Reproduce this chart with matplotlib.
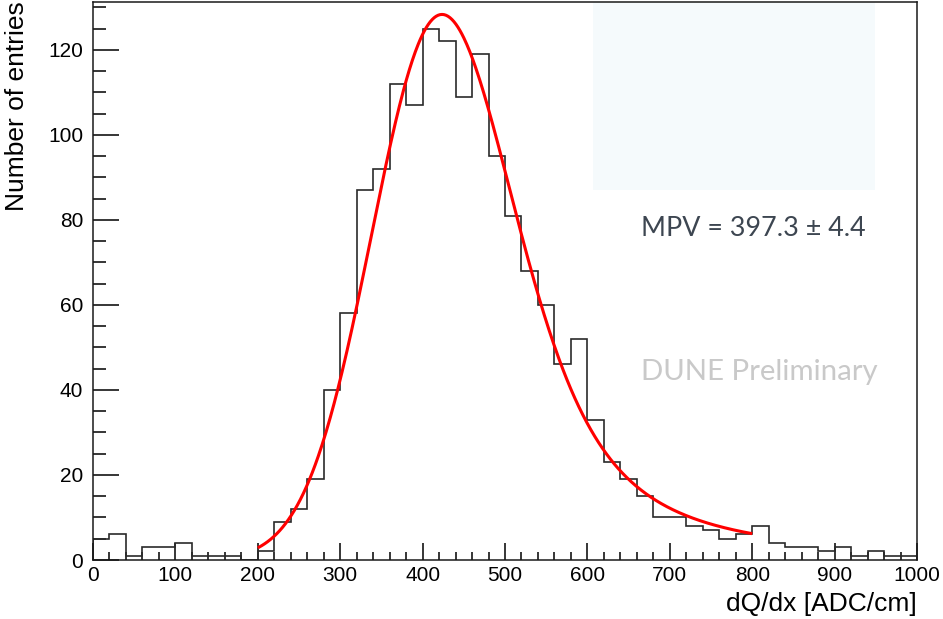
import numpy as np
import matplotlib
matplotlib.use("Agg")
import matplotlib.pyplot as plt
from matplotlib.ticker import MultipleLocator
from matplotlib.patches import Rectangle

# ---------------- data ----------------
bin_width = 20
x_min, x_max = 0, 1000
counts = [5, 6, 1, 3, 3, 4, 1, 1, 1, 0,
          2, 9, 12, 19, 40, 58, 87, 92, 112, 107,
          125, 122, 109, 119, 95, 81, 68, 60, 46, 52,
          33, 23, 19, 15, 10, 10, 8, 7, 5, 6,
          8, 4, 3, 3, 2, 3, 1, 2, 1, 1]

# Landau (x) Gaussian fit parameters
fit_range = (200, 800)
fit_width = 22.0      # Landau width
fit_mpv = 397.3       # Landau MPV
fit_area = 32970.0    # normalisation
fit_sigma = 72.0      # Gaussian sigma
mpv_err = 4.4

x_label = "dQ/dx [ADC/cm]"
y_label = "Number of entries"
mpv_text = "MPV = %.1f \u00b1 %.1f" % (fit_mpv, mpv_err)
watermark = "DUNE Preliminary"

# ---------------- Landau-Gauss function ----------------
lam_grid = np.arange(-4.0, 80.0, 0.02)

def landau_std(lam):
    out = np.zeros_like(lam)
    y = np.linspace(0, 80, 16001)
    dy = y[1] - y[0]
    for i in range(0, lam.size, 200):
        l = lam[i:i + 200][:, None]
        c = np.clip(np.exp(-1 - l), 1e-3, 60)
        s = c + 1j * y[None, :]
        f = np.exp(s * np.log(s) + l * s)
        out[i:i + 200] = np.trapezoid(f.real, dx=dy, axis=1) / np.pi
    return out

phi_grid = landau_std(lam_grid)
X = np.arange(-600, 2000, 1.0)

def langaus(xe, w, mpv, area, s):
    mpc = mpv + 0.22278298 * w
    L = np.interp((X - mpc) / w, lam_grid, phi_grid, left=0, right=0) / w
    k = np.arange(-np.ceil(5 * s), np.ceil(5 * s) + 1, 1.0)
    g = np.exp(-0.5 * (k / s) ** 2) / (np.sqrt(2 * np.pi) * s)
    conv = np.convolve(L, g, mode="same")
    return area * np.interp(xe, X, conv)

# ---------------- figure ----------------
W, H = 943, 619
fig = plt.figure(figsize=(W / 100, H / 100), dpi=100)
fig.patch.set_facecolor("white")
L0, R0, T0, B0 = 93, 917, 2, 560
ax = fig.add_axes([L0 / W, 1 - B0 / H, (R0 - L0) / W, (B0 - T0) / H])

edges = np.arange(x_min, x_max + bin_width, bin_width)
ax.stairs(counts, edges, color="#2a2a2a", lw=1.2, zorder=3)

xc = np.linspace(fit_range[0], fit_range[1], 500)
ax.plot(xc, langaus(xc, fit_width, fit_mpv, fit_area, fit_sigma),
        color="#ff0000", lw=2.2, zorder=4, solid_capstyle="butt")

ax.set_xlim(x_min, x_max)
ax.set_ylim(0, 1.05 * max(counts))

# light box (stats area)
ax.add_patch(Rectangle(((593 - L0) / (R0 - L0), (B0 - 190) / (B0 - T0)),
                       (875 - 593) / (R0 - L0), (190 - T0) / (B0 - T0),
                       transform=ax.transAxes, facecolor="#f5fafc",
                       edgecolor="none", zorder=0.5))

tick_font = "Liberation Sans"
ax.xaxis.set_major_locator(MultipleLocator(100))
ax.xaxis.set_minor_locator(MultipleLocator(20))
ax.yaxis.set_major_locator(MultipleLocator(20))
ax.yaxis.set_minor_locator(MultipleLocator(5))
ax.tick_params(axis="x", which="major", direction="in", length=12, width=1.1,
               pad=4, labelsize=15, top=False)
ax.tick_params(axis="x", which="minor", direction="in", length=6, width=1.1, top=False)
ax.tick_params(axis="y", which="major", direction="in", length=18.5, width=1.1,
               pad=7, labelsize=15, right=False)
ax.tick_params(axis="y", which="minor", direction="in", length=9.4, width=1.1, right=False)
for lab in ax.get_xticklabels() + ax.get_yticklabels():
    lab.set_fontfamily(tick_font)
for sp in ax.spines.values():
    sp.set_linewidth(1.1)
    sp.set_color("#1a1a1a")
    sp.set_zorder(5)

fig.text(17 / W, 1 - 1 / H, y_label, rotation=90, ha="center", va="top",
         fontsize=19, family=tick_font)
fig.text(R0 / W, 1 - 604 / H, x_label, ha="right", va="center",
         fontsize=19, family=tick_font)

fig.text(641 / W, 1 - 228 / H, mpv_text, ha="left", va="center",
         fontsize=19.4, family="Lato", color="#3d4651")
fig.text(641 / W, 1 - 372 / H, watermark, ha="left", va="center",
         fontsize=21.2, family="Lato", color="#c9c9c9")

fig.savefig("out.png", dpi=100, facecolor="white")
